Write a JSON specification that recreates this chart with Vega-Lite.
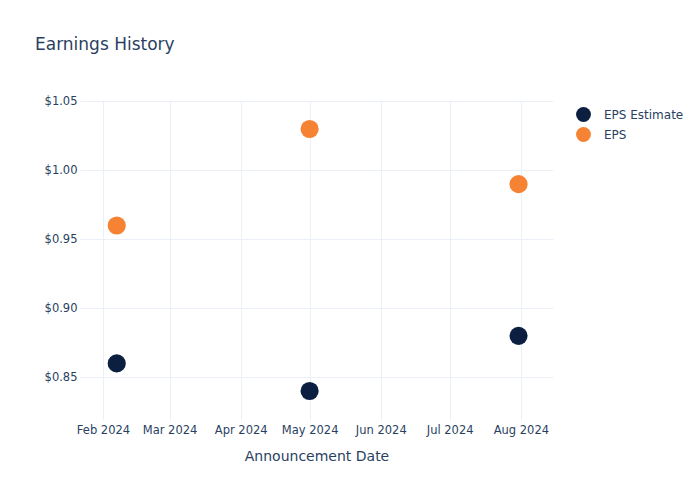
{
  "$schema": "https://vega.github.io/schema/vega-lite/v6.json",
  "width": 473,
  "height": 320,
  "autosize": {"type": "none"},
  "padding": {"left": 80, "top": 100, "right": 147, "bottom": 80},
  "background": "white",
  "title": {
    "text": "Earnings History",
    "anchor": "start",
    "frame": "group",
    "dx": -45,
    "offset": 41,
    "fontSize": 17,
    "fontWeight": "normal",
    "font": "DejaVu Sans",
    "color": "#2a3f5f"
  },
  "config": {
    "font": "DejaVu Sans",
    "view": {"stroke": null},
    "axis": {
      "labelColor": "#2a3f5f",
      "titleColor": "#2a3f5f",
      "labelFontSize": 11.5,
      "titleFontSize": 14,
      "titleFontWeight": "normal",
      "gridColor": "#EBF0F8",
      "gridWidth": 1,
      "domain": false,
      "ticks": false
    }
  },
  "data": {
    "values": [
      {"date": "2024-02-07", "series": "EPS Estimate", "value": 0.86},
      {"date": "2024-05-01", "series": "EPS Estimate", "value": 0.84},
      {"date": "2024-07-31", "series": "EPS Estimate", "value": 0.88},
      {"date": "2024-02-07", "series": "EPS", "value": 0.96},
      {"date": "2024-05-01", "series": "EPS", "value": 1.03},
      {"date": "2024-07-31", "series": "EPS", "value": 0.99}
    ]
  },
  "mark": {"type": "point", "filled": true, "opacity": 1, "size": 330, "shape": "circle"},
  "encoding": {
    "x": {
      "field": "date",
      "type": "temporal",
      "scale": {"domain": ["2024-01-22", "2024-08-15"], "nice": false},
      "axis": {
        "title": "Announcement Date",
        "format": "%b %Y",
        "tickCount": {"interval": "month", "step": 1},
        "labelPadding": 4,
        "titlePadding": 14,
        "labelFlush": false,
        "labelOverlap": false
      }
    },
    "y": {
      "field": "value",
      "type": "quantitative",
      "scale": {"domain": [0.819, 1.051], "nice": false, "zero": false},
      "axis": {
        "title": null,
        "values": [0.85, 0.9, 0.95, 1.0, 1.05],
        "format": "$.2f",
        "labelPadding": 3
      }
    },
    "color": {
      "field": "series",
      "type": "nominal",
      "scale": {"domain": ["EPS Estimate", "EPS"], "range": ["#0c1f40", "#f68333"]},
      "legend": {
        "title": null,
        "orient": "none",
        "legendX": 495,
        "legendY": 6,
        "padding": 0,
        "symbolSize": 220,
        "symbolType": "circle",
        "symbolOpacity": 1,
        "labelFontSize": 12,
        "labelColor": "#2a3f5f",
        "labelOffset": 12,
        "rowPadding": 4
      }
    }
  }
}
